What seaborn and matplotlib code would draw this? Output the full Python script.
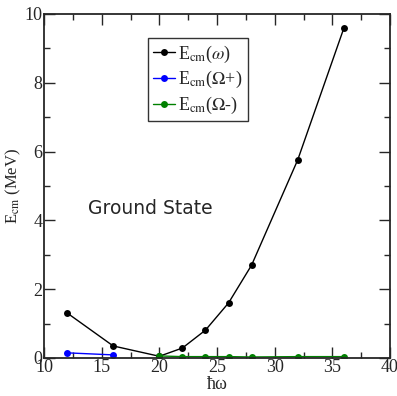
import matplotlib
matplotlib.use("Agg")
import matplotlib.pyplot as plt
import seaborn as sns
import pandas as pd
from matplotlib.ticker import MultipleLocator

hw_omega = [12, 16, 20, 22, 24, 26, 28, 32, 36]
e_omega = [1.31, 0.35, 0.05, 0.29, 0.81, 1.60, 2.70, 5.76, 9.59]
hw_plus = [12, 16]
e_plus = [0.15, 0.09]
hw_minus = [20, 22, 24, 26, 28, 32, 36]
e_minus = [0.06, 0.04, 0.04, 0.04, 0.03, 0.04, 0.04]

labels = [r"E$_{\mathrm{cm}}$($\omega$)", r"E$_{\mathrm{cm}}$($\Omega$+)", r"E$_{\mathrm{cm}}$($\Omega$-)"]
colors = ["black", "blue", "green"]

df = pd.concat([
    pd.DataFrame({"hw": hw_omega, "E": e_omega, "s": labels[0]}),
    pd.DataFrame({"hw": hw_plus, "E": e_plus, "s": labels[1]}),
    pd.DataFrame({"hw": hw_minus, "E": e_minus, "s": labels[2]}),
])

sns.set_style("ticks")
plt.rcParams['font.family'] = ['Liberation Serif', 'DejaVu Serif']
plt.rcParams['mathtext.fontset'] = 'stix'

fig = plt.figure(figsize=(3.97, 3.96), dpi=100)
ax = fig.add_axes([44/397, 1-358/396, 346/397, 344/396])

sns.lineplot(data=df, x="hw", y="E", hue="s", palette=colors, marker="o",
             markersize=5, markeredgewidth=0, linewidth=1.0, ax=ax, legend=True)

ax.set_xlim(10, 40)
ax.set_ylim(0, 10)
ax.xaxis.set_major_locator(MultipleLocator(5))
ax.xaxis.set_minor_locator(MultipleLocator(2.5))
ax.yaxis.set_major_locator(MultipleLocator(2))
ax.yaxis.set_minor_locator(MultipleLocator(1))
ax.tick_params(which="both", direction="in", top=True, right=True, labelsize=13, pad=1)
ax.tick_params(which="major", length=8, width=1)
ax.tick_params(which="minor", length=4, width=1)
for sp in ax.spines.values():
    sp.set_linewidth(1.3)

ax.set_xlabel("ħω", fontsize=13, labelpad=0)
ax.set_ylabel(r"E$_{\mathrm{cm}}$ (MeV)", fontsize=12)
ax.yaxis.set_label_coords(-0.062, 0.5)

leg = ax.legend(loc="upper left", bbox_to_anchor=(0.30, 0.93), borderaxespad=0,
                fontsize=13, frameon=True, fancybox=False, edgecolor="black",
                handlelength=1.2, handletextpad=0.2, borderpad=0.3, labelspacing=0.25)
leg.get_frame().set_linewidth(1.0)

ax.text(13.8, 4.2, "Ground State", fontsize=13.5, family="DejaVu Sans")

fig.savefig("out.png", dpi=100)
